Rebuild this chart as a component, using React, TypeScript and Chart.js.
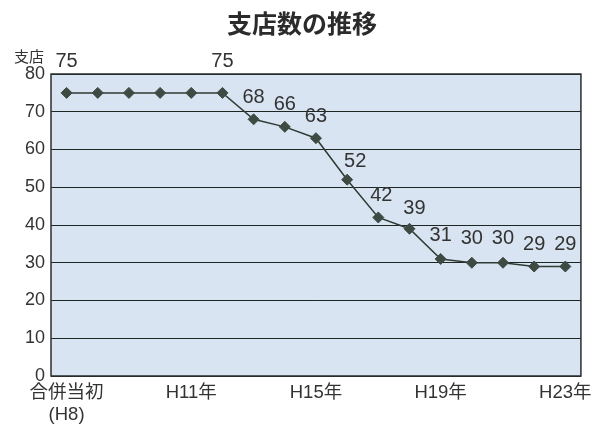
import React, { useEffect, useRef } from 'react';
import { Chart, registerables } from 'chart.js';

Chart.register(...registerables);

const title = '支店数の推移';
const yAxisTitle = '支店';
const tickLabels: (string | string[])[] = [
  ['合併当初', '(H8)'], '', '', '', 'H11年', '', '', '', 'H15年', '', '', '', 'H19年', '', '', '', 'H23年',
];
const branchCounts = [75, 75, 75, 75, 75, 75, 68, 66, 63, 52, 42, 39, 31, 30, 30, 29, 29];
const showValue = [true, false, false, false, false, true, true, true, true, true, true, true, true, true, true, true, true];
const yMin = 0;
const yMax = 80;
const yStep = 10;

const LATIN = "'Liberation Sans', 'Noto Sans CJK JP', sans-serif";
const CJK = "'Noto Sans CJK JP', sans-serif";

const decorPlugin = {
  id: 'decor',
  beforeDraw(chart: any) {
    const { ctx, chartArea } = chart;
    ctx.save();
    ctx.fillStyle = '#d8e4f1';
    ctx.fillRect(chartArea.left, chartArea.top, chartArea.right - chartArea.left, chartArea.bottom - chartArea.top);
    ctx.restore();
  },
  afterDraw(chart: any) {
    const { ctx, chartArea } = chart;
    ctx.save();
    ctx.strokeStyle = '#2a2f2e';
    ctx.lineWidth = 1.5;
    ctx.strokeRect(chartArea.left, chartArea.top, chartArea.right - chartArea.left, chartArea.bottom - chartArea.top);
    ctx.fillStyle = '#2b2b2b';
    ctx.textAlign = 'center';
    ctx.textBaseline = 'middle';
    ctx.font = `bold 25px ${CJK}`;
    ctx.fillText(title, 302, 23);
    ctx.font = `15px ${CJK}`;
    ctx.fillStyle = '#333';
    ctx.fillText(yAxisTitle, 29, 56);
    ctx.restore();
  },
};

const valueLabelPlugin = {
  id: 'valueLabels',
  afterDatasetsDraw(chart: any) {
    const { ctx } = chart;
    const meta = chart.getDatasetMeta(0);
    const offsets: Record<number, [number, number]> = {
      0: [0, 31], 5: [0, 31], 9: [8, 18], 10: [3, 22], 11: [5, 20], 12: [0, 23], 13: [0, 24], 14: [0, 24],
    };
    ctx.save();
    ctx.fillStyle = '#333';
    ctx.font = `20px ${LATIN}`;
    ctx.textAlign = 'center';
    ctx.textBaseline = 'middle';
    meta.data.forEach((pt: any, i: number) => {
      if (!showValue[i]) return;
      const [dx, dy] = offsets[i] || [0, 22];
      ctx.fillText(String(branchCounts[i]), pt.x + dx, pt.y - dy);
    });
    ctx.restore();
  },
};

export default function App() {
  const canvasRef = useRef<HTMLCanvasElement | null>(null);

  useEffect(() => {
    if (!canvasRef.current) return;
    const chart = new Chart(canvasRef.current, {
      type: 'line',
      data: {
        labels: tickLabels as any,
        datasets: [
          {
            data: branchCounts,
            borderColor: '#2f3a35',
            borderWidth: 1.5,
            pointStyle: 'rectRot',
            pointRadius: 5.5,
            pointBackgroundColor: '#3d4b43',
            pointBorderColor: '#3d4b43',
            pointBorderWidth: 1,
            tension: 0,
          },
        ],
      },
      options: {
        animation: false,
        responsive: false,
        maintainAspectRatio: false,
        layout: { padding: { top: 74, right: 15, bottom: 0, left: 0 } },
        plugins: {
          legend: { display: false },
          title: { display: false },
          tooltip: { enabled: false },
        },
        scales: {
          x: {
            offset: true,
            grid: { display: false, drawTicks: false },
            border: { display: false },
            ticks: {
              autoSkip: false,
              maxRotation: 0,
              padding: 6,
              color: '#333',
              font: { size: 18.5, family: LATIN, lineHeight: 1.2 },
            },
            afterFit(scale: any) {
              scale.height = 52;
            },
          },
          y: {
            min: yMin,
            max: yMax,
            grid: { color: '#1e2624', lineWidth: 1, drawTicks: false },
            border: { display: false },
            ticks: {
              stepSize: yStep,
              padding: 6,
              color: '#333',
              font: { size: 18, family: LATIN },
            },
            afterFit(scale: any) {
              scale.width = 51;
            },
          },
        },
      },
      plugins: [decorPlugin, valueLabelPlugin],
    });
    return () => chart.destroy();
  }, []);

  return (
    <div style={{ position: 'fixed', left: 0, top: 0, width: 598, height: 428, background: '#fff' }}>
      <canvas ref={canvasRef} width={598} height={428} style={{ width: 598, height: 428 }} />
    </div>
  );
}
